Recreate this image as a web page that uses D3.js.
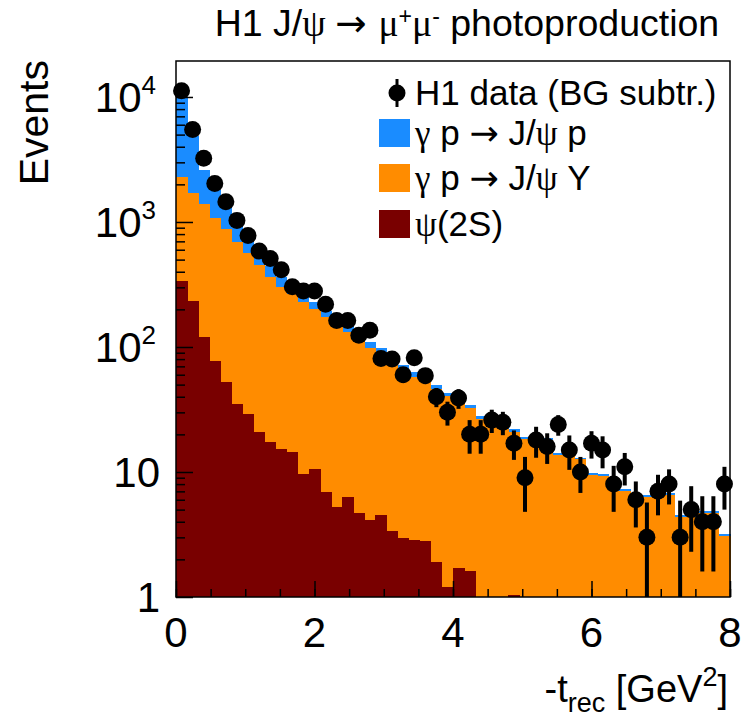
<!DOCTYPE html>
<html>
<head>
<meta charset="utf-8">
<script src="https://cdn.jsdelivr.net/npm/d3@7"></script>
<style>
  body { margin: 0; background: #fff; }
  svg { display: block; }
  text { font-family: "Liberation Sans", Arial, Helvetica, sans-serif; fill: #000; }
  .sym { font-family: "Liberation Serif", "Times New Roman", serif; }
  .arr { font-family: "DejaVu Sans", sans-serif; }
</style>
</head>
<body>
<svg id="chart" width="743" height="723"></svg>
<script>
// bin centres of -t_rec [GeV^2], bin width 0.16
var tCentres = [0.08, 0.24, 0.40, 0.56, 0.72, 0.88, 1.04, 1.20, 1.36, 1.52,
                1.68, 1.84, 2.00, 2.16, 2.32, 2.48, 2.64, 2.80, 2.96, 3.12,
                3.28, 3.44, 3.60, 3.76, 3.92, 4.08, 4.24, 4.40, 4.56, 4.72,
                4.88, 5.04, 5.20, 5.36, 5.52, 5.68, 5.84, 6.00, 6.16, 6.32,
                6.48, 6.64, 6.80, 6.96, 7.12, 7.28, 7.44, 7.60, 7.76, 7.92];
var binWidth = 0.16;

// H1 data (BG subtracted) and errors
var dataVal = [11200, 5500, 3230, 2030, 1450, 1030, 780, 585, 510, 415,
               303, 280, 280, 220, 163, 163, 124, 136, 81, 80,
               60, 82, 59, 40, 30, 39, 20, 20, 26, 25,
               17, 9, 18, 16, 24, 15, 10, 17, 15, 8,
               11, 6, 3, 7, 8, 3, 5, 4, 4, 8];
var dataErr = [110, 78, 60, 47, 40, 34, 30, 25, 24, 21,
               18, 18, 18, 16, 14, 14, 12, 13, 10, 10,
               8.5, 10, 8.5, 7, 6.5, 7, 6, 6, 5.5, 5.3,
               4.5, 4.2, 5, 4.4, 4.5, 4.6, 3.2, 4.2, 4.3, 3.2,
               3.2, 2.4, 2.7, 2.5, 2.5, 2.9, 2.7, 2.4, 2.4, 3];

// MC contributions (stacked: psi(2S) bottom, J/psi Y, J/psi p on top)
var psi2S = [335, 235, 120, 77, 52, 35, 29, 21, 17.5, 15.2,
             14.5, 9.6, 10.6, 6.9, 5.2, 6.3, 4.7, 4.1, 4.5, 3.35,
             2.95, 2.86, 2.8, 1.92, 1.2, 1.7, 1.6, 0, 0, 0,
             1.04, 0, 0, 0, 0, 0, 0, 0, 0, 0,
             0, 0, 0, 0, 0, 0, 0, 0, 0, 0];
var jpsiY = [1940, 1485, 1260, 1008, 833, 655, 531, 429, 348, 285,
             252, 219, 192, 167, 144, 126, 115, 94, 86, 69,
             63, 55, 52, 44, 39, 36, 31, 26.5, 25, 22,
             20, 18.2, 18.2, 18.0, 13.6, 13.4, 12.6, 9.5, 9.3, 7.1,
             7.0, 6.4, 6.3, 6.6, 6.6, 4.4, 4.4, 4.7, 4.7, 3.1];
var jpsiP = [7500, 3180, 1220, 715, 435, 240, 140, 95, 80, 60,
             40, 30, 26, 20, 16, 14, 12, 11, 8, 7,
             6, 5, 4, 3.3, 2.8, 2.3, 1.9, 1.6, 1.3, 1.1,
             0.9, 0.8, 0.7, 0.6, 0.5, 0.5, 0.4, 0.35, 0.35, 0.3,
             0.3, 0.25, 0.25, 0.25, 0.2, 0.15, 0.15, 0.2, 0.2, 0.1];

var xMajor = [0, 2, 4, 6, 8];
var yDecades = [1, 10, 100, 1000, 10000];
var yExponents = ["", "", "2", "3", "4"];
var yMax = 19400;

var seriesKeys = ["psi2S", "jpsiY", "jpsiP"];
var seriesColors = {psi2S: "#790000", jpsiY: "#ff8c00", jpsiP: "#1a8cff"};

var svg = d3.select("#chart");
var pLeft = 176, pRight = 730, pTop = 61, pBottom = 597;

var x = d3.scaleLinear().domain([0, 8]).range([pLeft, pRight]);
var y = d3.scaleLog().domain([1, yMax]).range([pBottom, pTop]).clamp(true);

var rows = tCentres.map(function (t, i) {
  return {t: t, psi2S: psi2S[i], jpsiY: jpsiY[i], jpsiP: jpsiP[i]};
});
var stacked = d3.stack().keys(seriesKeys)(rows);

// draw from the top layer down so each filled column starts at the axis
var plot = svg.append("g");
stacked.slice().reverse().forEach(function (layer) {
  plot.append("g")
    .attr("fill", seriesColors[layer.key])
    .attr("shape-rendering", "crispEdges")
    .selectAll("rect")
    .data(layer)
    .join("rect")
    .attr("x", d => x(d.data.t - binWidth / 2))
    .attr("width", d => x(d.data.t + binWidth / 2) - x(d.data.t - binWidth / 2) + 0.5)
    .attr("y", d => y(Math.max(d[1], 1)))
    .attr("height", d => pBottom - y(Math.max(d[1], 1)));
});

// axes
var xAxisMinor = d3.axisBottom(x).tickValues(d3.range(0, 8.01, 0.5)).tickSize(-8).tickFormat("");
var xAxisMajor = d3.axisBottom(x).tickValues(xMajor).tickSize(-16).tickFormat("");
[xAxisMinor, xAxisMajor].forEach(function (ax) {
  svg.append("g").attr("transform", "translate(0," + pBottom + ")").call(ax)
    .call(g => g.select(".domain").remove())
    .selectAll("line").attr("stroke", "#000").attr("stroke-width", 1.5);
});

var minorY = [];
yDecades.forEach(function (d) {
  for (var m = 2; m <= 9; m++) if (d * m < yMax) minorY.push(d * m);
});
var yAxisMinor = d3.axisLeft(y).tickValues(minorY).tickSize(-9).tickFormat("");
var yAxisMajor = d3.axisLeft(y).tickValues(yDecades).tickSize(-17).tickFormat("");
[yAxisMinor, yAxisMajor].forEach(function (ax) {
  svg.append("g").attr("transform", "translate(" + pLeft + ",0)").call(ax)
    .call(g => g.select(".domain").remove())
    .selectAll("line").attr("stroke", "#000").attr("stroke-width", 1.5);
});

// frame
svg.append("rect")
  .attr("x", pLeft).attr("y", pTop)
  .attr("width", pRight - pLeft).attr("height", pBottom - pTop)
  .attr("fill", "none").attr("stroke", "#000").attr("stroke-width", 1.5);

// tick labels
svg.append("g").selectAll("text")
  .data(xMajor)
  .join("text")
  .attr("x", d => x(d))
  .attr("y", pBottom + 50)
  .attr("text-anchor", "middle")
  .attr("font-size", 42)
  .text(d => d);

var yLab = svg.append("g").selectAll("text")
  .data(yDecades)
  .join("text")
  .attr("x", (d, i) => yExponents[i] === "" ? 160 : 156)
  .attr("y", d => y(d) + 15)
  .attr("text-anchor", "end")
  .attr("font-size", 42);
yLab.append("tspan").text((d, i) => i === 0 ? "1" : "10");
yLab.filter((d, i) => yExponents[i] !== "")
  .append("tspan")
  .attr("dy", -18)
  .attr("font-size", 26)
  .text(d => yExponents[yDecades.indexOf(d)]);

// axis titles
svg.append("text")
  .attr("transform", "translate(48,60) rotate(-90)")
  .attr("text-anchor", "end")
  .attr("font-size", 41)
  .text("Events");

var xt = svg.append("text")
  .attr("x", 728).attr("y", 702)
  .attr("text-anchor", "end")
  .attr("font-size", 38);
xt.append("tspan").text("-t");
xt.append("tspan").attr("dy", 10).attr("font-size", 27).text("rec");
xt.append("tspan").attr("dy", -10).text(" [GeV");
xt.append("tspan").attr("dy", -16).attr("font-size", 27).text("2");
xt.append("tspan").attr("dy", 16).text("]");

// title
var title = svg.append("text")
  .attr("x", 467).attr("y", 36)
  .attr("text-anchor", "middle")
  .attr("font-size", 37.5);
title.append("tspan").text("H1 J/");
title.append("tspan").attr("class", "sym").text("\u03c8 ");
title.append("tspan").attr("class", "arr").text("\u2192 ");
title.append("tspan").attr("class", "sym").text("\u03bc");
title.append("tspan").attr("dy", -12).attr("font-size", 23).text("+");
title.append("tspan").attr("dy", 12).attr("class", "sym").text("\u03bc");
title.append("tspan").attr("dy", -12).attr("font-size", 23).text("-");
title.append("tspan").attr("dy", 12).text(" photoproduction");

// data points
var pts = svg.append("g");
pts.selectAll("line")
  .data(tCentres)
  .join("line")
  .attr("x1", d => x(d)).attr("x2", d => x(d))
  .attr("y1", (d, i) => y(dataVal[i] + dataErr[i]))
  .attr("y2", (d, i) => y(Math.max(dataVal[i] - dataErr[i], 1e-3)))
  .attr("stroke", "#000").attr("stroke-width", 4);
pts.selectAll("circle")
  .data(tCentres)
  .join("circle")
  .attr("cx", d => x(d))
  .attr("cy", (d, i) => y(dataVal[i]))
  .attr("r", 8.5)
  .attr("fill", "#000");

// legend
var legendY = [93, 133, 178, 224];
var lg = svg.append("g");
lg.append("line").attr("x1", 397).attr("x2", 397).attr("y1", legendY[0] - 14).attr("y2", legendY[0] + 14)
  .attr("stroke", "#000").attr("stroke-width", 3);
lg.append("circle").attr("cx", 397).attr("cy", legendY[0]).attr("r", 8.5).attr("fill", "#000");
["jpsiP", "jpsiY", "psi2S"].forEach(function (k, i) {
  lg.append("rect")
    .attr("x", 379).attr("width", 31)
    .attr("y", legendY[i + 1] - 14).attr("height", 28)
    .attr("fill", seriesColors[k]);
});
function legendText(i, parts) {
  var t = lg.append("text").attr("x", 415).attr("y", legendY[i] + 12).attr("font-size", 35);
  parts.forEach(function (p) {
    t.append("tspan").attr("class", p[1] || null).text(p[0]);
  });
}
legendText(0, [["H1 data (BG subtr.)"]]);
legendText(1, [["\u03b3", "sym"], [" p "], ["\u2192", "arr"], [" J/"], ["\u03c8", "sym"], [" p"]]);
legendText(2, [["\u03b3", "sym"], [" p "], ["\u2192", "arr"], [" J/"], ["\u03c8", "sym"], [" Y"]]);
legendText(3, [["\u03c8", "sym"], ["(2S)"]]);
</script>
</body>
</html>
